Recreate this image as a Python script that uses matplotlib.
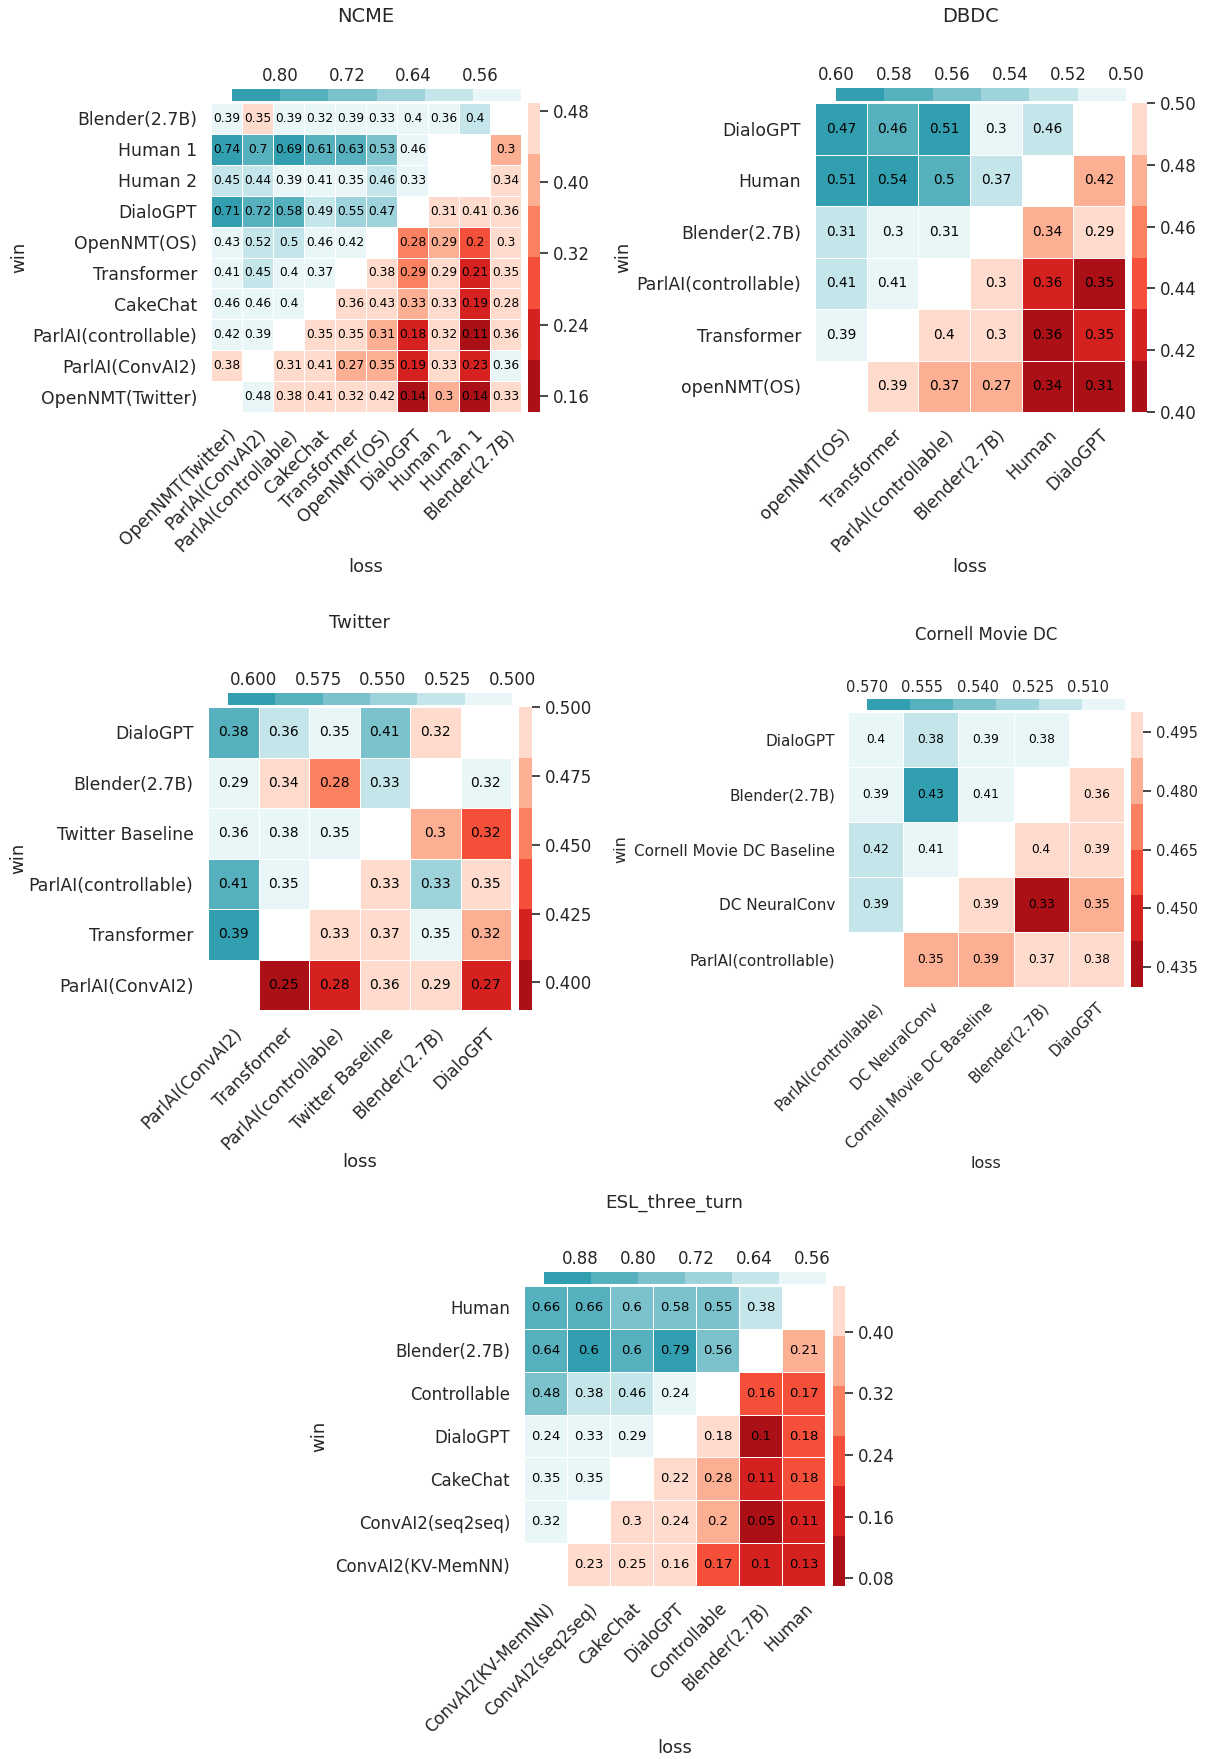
import numpy as np
import matplotlib.pyplot as plt
import seaborn as sns
from matplotlib.colors import ListedColormap, Normalize
from matplotlib.cm import ScalarMappable

nan = np.nan

# ---------------- data ----------------
# rows = win, columns = loss (columns are the rows in reverse order)
ncme_models = ["Blender(2.7B)", "Human 1", "Human 2", "DialoGPT", "OpenNMT(OS)", "Transformer",
               "CakeChat", "ParlAI(controllable)", "ParlAI(ConvAI2)", "OpenNMT(Twitter)"]
ncme_annot = [
    [.39, .35, .39, .32, .39, .33, .4, .36, .4, nan],
    [.74, .7, .69, .61, .63, .53, .46, nan, nan, .3],
    [.45, .44, .39, .41, .35, .46, .33, nan, nan, .34],
    [.71, .72, .58, .49, .55, .47, nan, .31, .41, .36],
    [.43, .52, .5, .46, .42, nan, .28, .29, .2, .3],
    [.41, .45, .4, .37, nan, .38, .29, .29, .21, .35],
    [.46, .46, .4, nan, .36, .43, .33, .33, .19, .28],
    [.42, .39, nan, .35, .35, .31, .18, .32, .11, .36],
    [.38, nan, .31, .41, .27, .35, .19, .33, .23, .36],
    [nan, .48, .38, .41, .32, .42, .14, .3, .14, .33],
]
ncme_prob = [
    [.54, .46, .54, .54, .54, .54, .54, .54, .60, nan],
    [.83, .77, .83, .77, .77, .71, .54, nan, nan, .40],
    [.60, .60, .54, .54, .54, .60, .54, nan, nan, .46],
    [.83, .77, .77, .60, .66, .66, nan, .46, .46, .46],
    [.54, .60, .60, .54, .54, nan, .34, .40, .29, .46],
    [.54, .60, .54, .54, nan, .46, .34, .46, .23, .46],
    [.54, .54, .54, nan, .46, .46, .40, .46, .23, .46],
    [.54, .54, nan, .46, .46, .40, .23, .46, .17, .46],
    [.46, nan, .46, .46, .40, .40, .23, .46, .23, .54],
    [nan, .54, .46, .46, .46, .46, .17, .40, .17, .46],
]
ncme_red_lim, ncme_teal_lim = (0.142, 0.489), (0.511, 0.858)
ncme_red_ticks = [0.48, 0.40, 0.32, 0.24, 0.16]
ncme_teal_ticks = [0.80, 0.72, 0.64, 0.56]

dbdc_models = ["DialoGPT", "Human", "Blender(2.7B)", "ParlAI(controllable)", "Transformer", "openNMT(OS)"]
dbdc_annot = [
    [.47, .46, .51, .3, .46, nan],
    [.51, .54, .5, .37, nan, .42],
    [.31, .3, .31, nan, .34, .29],
    [.41, .41, nan, .3, .36, .35],
    [.39, nan, .4, .3, .36, .35],
    [nan, .39, .37, .27, .34, .31],
]
dbdc_prob = [
    [.592, .575, .592, .508, .525, nan],
    [.592, .592, .575, .525, nan, .475],
    [.525, .508, .508, nan, .475, .492],
    [.525, .508, nan, .492, .425, .408],
    [.508, nan, .492, .492, .408, .425],
    [nan, .492, .475, .475, .408, .408],
]
dbdc_red_lim, dbdc_teal_lim = (0.40, 0.50), (0.50, 0.60)
dbdc_red_ticks = [0.50, 0.48, 0.46, 0.44, 0.42, 0.40]
dbdc_teal_ticks = [0.60, 0.58, 0.56, 0.54, 0.52, 0.50]

tw_models = ["DialoGPT", "Blender(2.7B)", "Twitter Baseline", "ParlAI(controllable)", "Transformer",
             "ParlAI(ConvAI2)"]
tw_annot = [
    [.38, .36, .35, .41, .32, nan],
    [.29, .34, .28, .33, nan, .32],
    [.36, .38, .35, nan, .3, .32],
    [.41, .35, nan, .33, .33, .35],
    [.39, nan, .33, .37, .35, .32],
    [nan, .25, .28, .36, .29, .27],
]
tw_prob = [
    [.583, .528, .509, .564, .491, nan],
    [.509, .491, .454, .528, nan, .509],
    [.509, .509, .509, nan, .472, .436],
    [.583, .509, nan, .491, .546, .491],
    [.601, nan, .491, .491, .509, .472],
    [nan, .399, .418, .491, .491, .418],
]
tw_red_lim, tw_teal_lim = (0.390, 0.500), (0.500, 0.610)
tw_red_ticks = [0.500, 0.475, 0.450, 0.425, 0.400]
tw_teal_ticks = [0.600, 0.575, 0.550, 0.525, 0.500]

cm_models = ["DialoGPT", "Blender(2.7B)", "Cornell Movie DC Baseline", "DC NeuralConv", "ParlAI(controllable)"]
cm_annot = [
    [.4, .38, .39, .38, nan],
    [.39, .43, .41, nan, .36],
    [.42, .41, nan, .4, .39],
    [.39, nan, .39, .33, .35],
    [nan, .35, .39, .37, .38],
]
cm_prob = [
    [.506, .518, .506, .506, nan],
    [.506, .564, .506, nan, .494],
    [.518, .506, nan, .494, .494],
    [.518, nan, .494, .436, .482],
    [nan, .482, .482, .494, .494],
]
cm_red_lim, cm_teal_lim = (0.430, 0.500), (0.500, 0.570)
cm_red_ticks = [0.495, 0.480, 0.465, 0.450, 0.435]
cm_teal_ticks = [0.570, 0.555, 0.540, 0.525, 0.510]

esl_models = ["Human", "Blender(2.7B)", "Controllable", "DialoGPT", "CakeChat", "ConvAI2(seq2seq)",
              "ConvAI2(KV-MemNN)"]
esl_annot = [
    [.66, .66, .6, .58, .55, .38, nan],
    [.64, .6, .6, .79, .56, nan, .21],
    [.48, .38, .46, .24, nan, .16, .17],
    [.24, .33, .29, nan, .18, .1, .18],
    [.35, .35, nan, .22, .28, .11, .18],
    [.32, nan, .3, .24, .2, .05, .11],
    [nan, .23, .25, .16, .17, .1, .13],
]
esl_prob = [
    [.833, .833, .768, .768, .768, .638, nan],
    [.833, .898, .833, .898, .768, nan, .362],
    [.768, .638, .638, .573, nan, .232, .232],
    [.573, .573, .573, nan, .427, .102, .232],
    [.573, .573, nan, .427, .362, .167, .232],
    [.573, nan, .427, .427, .362, .102, .167],
    [nan, .427, .427, .427, .232, .167, .167],
]
esl_red_lim, esl_teal_lim = (0.070, 0.459), (0.541, 0.930)
esl_red_ticks = [0.40, 0.32, 0.24, 0.16, 0.08]
esl_teal_ticks = [0.88, 0.80, 0.72, 0.64, 0.56]

# ---------------- style ----------------
plt.rcParams["font.family"] = ["DejaVu Sans"]
TXT = "#262626"
teal_cmap = ListedColormap(["#e9f6f7", "#c4e5e9", "#9fd3db", "#7bc2cc", "#56b0be", "#319fb0"])
red_cmap = ListedColormap(sns.color_palette("Reds", 6)[::-1])

W, H = 1209, 1759
fig = plt.figure(figsize=(W / 100, H / 100), dpi=100)


def box(x0, y0, x1, y1):
    return [x0 / W, 1 - y1 / H, (x1 - x0) / W, (y1 - y0) / H]


def panel(models, annot, prob, red_lim, teal_lim, red_ticks, teal_ticks, title,
          heat, top, right, title_y, win_x, loss_y, tick_fs=12.4, cbar_fs=12, title_fs=13,
          label_fs=13, annot_fs=9, pad=10):
    P = np.array(prob, dtype=float)
    A = np.array(annot, dtype=float)
    nr, nc = P.shape
    ax = fig.add_axes(box(*heat))
    t_norm = Normalize(*teal_lim)
    r_norm = Normalize(*red_lim)
    ax.pcolormesh(np.ma.masked_where(~(P > 0.5), P), cmap=teal_cmap, norm=t_norm,
                  edgecolors="white", linewidth=0.6)
    ax.pcolormesh(np.ma.masked_where(~(P < 0.5), P), cmap=red_cmap, norm=r_norm,
                  edgecolors="white", linewidth=0.6)
    for i in range(nr):
        for j in range(nc):
            if not np.isnan(A[i, j]):
                ax.text(j + 0.5, i + 0.5, format(A[i, j], ".2g"), ha="center", va="center",
                        fontsize=annot_fs, color="black")
    ax.set_xlim(0, nc)
    ax.set_ylim(nr, 0)
    ax.set_yticks(np.arange(nr) + 0.5, models, fontsize=tick_fs, color=TXT)
    ax.set_xticks(np.arange(nc) + 0.5, models[::-1], fontsize=tick_fs, color=TXT,
                  rotation=45, ha="right", rotation_mode="anchor")
    ax.tick_params(length=0, pad=pad)
    for sp in ax.spines.values():
        sp.set_visible(False)

    # top colorbar (values above 0.5)
    cax = fig.add_axes(box(*top))
    cb = fig.colorbar(ScalarMappable(t_norm, teal_cmap), cax=cax, orientation="horizontal")
    cb.outline.set_visible(False)
    cax.invert_xaxis()
    cax.xaxis.set_ticks_position("top")
    cb.set_ticks(teal_ticks)
    cax.tick_params(length=0, pad=3, labelsize=cbar_fs, labelcolor=TXT)

    # right colorbar (values below 0.5)
    rax = fig.add_axes(box(*right))
    cb2 = fig.colorbar(ScalarMappable(r_norm, red_cmap), cax=rax)
    cb2.outline.set_visible(False)
    cb2.set_ticks(red_ticks)
    rax.tick_params(length=6, width=1.2, color=TXT, pad=3.5, labelsize=cbar_fs, labelcolor=TXT)

    cx = (heat[0] + heat[2]) / 2 / W
    fig.text(cx, 1 - title_y / H, title, ha="center", va="center", fontsize=title_fs, color=TXT)
    fig.text(win_x / W, 1 - (heat[1] + heat[3]) / 2 / H, "win", ha="center", va="center",
             rotation=90, fontsize=label_fs, color=TXT)
    fig.text(cx, 1 - loss_y / H, "loss", ha="center", va="center", fontsize=label_fs, color=TXT)


panel(ncme_models, ncme_annot, ncme_prob, ncme_red_lim, ncme_teal_lim, ncme_red_ticks, ncme_teal_ticks,
      "NCME", (211, 103, 521, 412), (232, 89, 521, 101), (528, 103, 540, 412),
      17, 19, 567, annot_fs=8.8, title_fs=14)
panel(dbdc_models, dbdc_annot, dbdc_prob, dbdc_red_lim, dbdc_teal_lim, dbdc_red_ticks, dbdc_teal_ticks,
      "DBDC", (815, 103, 1125, 412), (836, 88, 1126, 101), (1132, 103, 1147, 412),
      17, 623, 567, annot_fs=9.8, title_fs=14)
panel(tw_models, tw_annot, tw_prob, tw_red_lim, tw_teal_lim, tw_red_ticks, tw_teal_ticks,
      "Twitter", (208, 707, 511, 1010), (228, 693, 512, 705), (519, 707, 532, 1010),
      623, 18, 1162, annot_fs=9.9, title_fs=13.1, pad=10.5)
panel(cm_models, cm_annot, cm_prob, cm_red_lim, cm_teal_lim, cm_red_ticks, cm_teal_ticks,
      "Cornell Movie DC", (848, 712, 1124, 987), (867, 699, 1125, 710), (1131, 712, 1143, 987),
      635, 621, 1164, tick_fs=11, cbar_fs=10.5, title_fs=12, label_fs=11.5, annot_fs=8.7, pad=9.2)
panel(esl_models, esl_annot, esl_prob, esl_red_lim, esl_teal_lim, esl_red_ticks, esl_teal_ticks,
      "ESL_three_turn", (524, 1286, 825, 1586), (544, 1272, 826, 1284), (833, 1286, 845, 1586),
      1203, 319, 1748, tick_fs=12, annot_fs=9.5, title_fs=13.2)

fig.savefig("out.png", dpi=100, facecolor="white")
